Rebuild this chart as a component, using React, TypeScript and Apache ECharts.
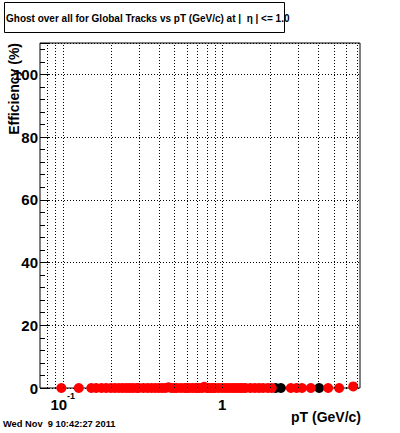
import React, { useEffect, useRef } from "react";
import * as echarts from "echarts";

const titleText = "Ghost over all for Global Tracks vs pT (GeV/c) at |  η | <= 1.0";
const xTitle = "pT (GeV/c)";
const yTitle = "Efficiency (%)";
const dateText = "Wed Nov  9 10:42:27 2011";

const redPt = [
  0.098, 0.126, 0.151, 0.162, 0.175, 0.187, 0.2, 0.212, 0.225, 0.237, 0.25, 0.262, 0.275, 0.29,
  0.3, 0.32, 0.34, 0.36, 0.38, 0.4, 0.42, 0.44, 0.46, 0.48, 0.5, 0.52, 0.55, 0.58, 0.6, 0.62,
  0.65, 0.68, 0.7, 0.72, 0.75, 0.77, 0.8, 0.82, 0.85, 0.88, 0.9, 0.95, 1.0, 1.05, 1.1, 1.15,
  1.2, 1.25, 1.3, 1.35, 1.4, 1.5, 1.6, 1.7, 1.8, 1.93, 2.04, 2.69, 2.92, 3.16, 3.59, 4.61,
  5.4, 6.62,
];
const redEff = [
  0, 0, 0, 0, 0, 0, 0, 0, 0, 0, 0, 0, 0, 0,
  0, 0, 0, 0, 0, 0, 0, 0, 0.2, 0, 0, 0, 0, 0, 0, 0,
  0, 0, 0, 0, 0, 0.4, 0, 0, 0, 0, 0, 0, 0, 0, 0, 0,
  0, 0, 0, 0, 0, 0, 0, 0, 0, 0, 0, 0, 0, 0, 0, 0,
  0, 0.5,
];
const blackPt = [2.16, 2.33, 4.05];
const blackEff = [0, 0, 0];

const xGrid = [0.08, 0.09, 0.1, 0.2, 0.3, 0.4, 0.5, 0.6, 0.7, 0.8, 0.9, 1, 2, 3, 4, 5, 6, 7];
const xMin = 0.072;
const xMax = 7.3;
const yMin = 0;
const yMax = 110;
const yStep = 20;

export default function App() {
  const ref = useRef<HTMLDivElement>(null);
  useEffect(() => {
    if (!ref.current) return;
    const chart = echarts.init(ref.current, null, { renderer: "svg" });
    const font = "Liberation Sans, Arial, Helvetica, sans-serif";
    chart.setOption({
      animation: false,
      backgroundColor: "#fff",
      grid: {
        left: 40,
        right: 40,
        top: 43,
        bottom: 45,
        show: true,
        borderColor: "#000",
        borderWidth: 1,
        backgroundColor: "transparent",
      },
      xAxis: {
        type: "log",
        logBase: 10,
        min: xMin,
        max: xMax,
        axisLine: { show: false },
        axisTick: { show: false },
        splitLine: { show: false },
        axisLabel: {
          margin: 3,
          color: "#000",
          formatter: (v: number) => {
            const l = Math.log10(v);
            const r = Math.round(l);
            if (Math.abs(l - r) > 1e-6) return "";
            if (r === 0) return "{b|1}";
            if (r === 1) return "{b|10}";
            return "{b|10}{s|" + r + "}";
          },
          rich: {
            b: {
              fontFamily: font,
              fontWeight: "bold",
              fontSize: 15,
              color: "#000",
              padding: [6, 0, 0, 0],
              verticalAlign: "bottom",
            },
            s: {
              fontFamily: font,
              fontWeight: "bold",
              fontSize: 9,
              color: "#000",
              verticalAlign: "top",
            },
          },
        },
      },
      yAxis: {
        type: "value",
        min: yMin,
        max: yMax,
        interval: yStep,
        axisLine: { show: false },
        axisTick: { show: true, inside: true, length: 9, lineStyle: { color: "#000" } },
        minorTick: { show: true, splitNumber: 5, length: 5, lineStyle: { color: "#000" } },
        splitLine: { show: true, lineStyle: { color: "#000", type: [1, 2], width: 1 } },
        axisLabel: {
          showMaxLabel: false,
          margin: 2,
          color: "#000",
          fontFamily: font,
          fontWeight: "bold",
          fontSize: 15,
        },
      },
      series: [
        {
          type: "scatter",
          name: "grid",
          data: [],
          silent: true,
          markLine: {
            silent: true,
            symbol: "none",
            label: { show: false },
            lineStyle: { color: "#000", type: [1, 2], width: 1 },
            data: xGrid.map((v) => ({ xAxis: v })),
          },
        },
        {
          type: "scatter",
          name: "black",
          symbol: "circle",
          symbolSize: 10,
          clip: false,
          itemStyle: { color: "#000", opacity: 1 },
          data: blackPt.map((x, i) => [x, blackEff[i]]),
        },
        {
          type: "scatter",
          name: "red",
          symbol: "circle",
          symbolSize: 10,
          clip: false,
          itemStyle: { color: "#ff0000", opacity: 1 },
          data: redPt.map((x, i) => [x, redEff[i]]),
        },
      ],
      graphic: [
        {
          type: "rect",
          shape: { x: 4.5, y: 2.5, width: 280, height: 30 },
          style: { fill: "#fff", stroke: "#000", lineWidth: 1 },
        },
        {
          type: "text",
          x: 6,
          y: 18,
          style: {
            text: titleText,
            fill: "#000",
            font: "bold 10px " + font,
            align: "left",
            verticalAlign: "middle",
          },
        },
        {
          type: "text",
          x: 14,
          y: 43,
          rotation: Math.PI / 2,
          style: {
            text: yTitle,
            fill: "#000",
            font: "bold 14px " + font,
            align: "right",
            verticalAlign: "middle",
          },
        },
        {
          type: "text",
          x: 361,
          y: 417,
          style: {
            text: xTitle,
            fill: "#000",
            font: "bold 14px " + font,
            align: "right",
            verticalAlign: "middle",
          },
        },
        {
          type: "text",
          x: 3,
          y: 424,
          style: {
            text: dateText,
            fill: "#000",
            font: "bold 9.3px " + font,
            align: "left",
            verticalAlign: "middle",
          },
        },
      ],
    });
    return () => chart.dispose();
  }, []);
  return (
    <div
      ref={ref}
      style={{ position: "fixed", left: 0, top: 0, width: 400, height: 433, background: "#fff" }}
    />
  );
}
